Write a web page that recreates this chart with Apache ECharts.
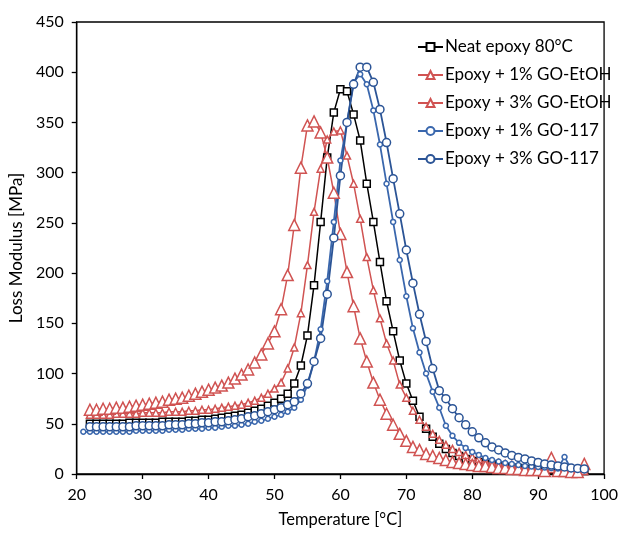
<!DOCTYPE html>
<html>
<head>
<meta charset="utf-8">
<script src="https://cdn.jsdelivr.net/npm/echarts@6/dist/echarts.min.js"></script>
<style>
html,body{margin:0;padding:0;background:#fff;}
#chart{width:621px;height:533px;}
</style>
</head>
<body>
<div id="chart"></div>
<script>
// Temperatures (°C)
const temps = [22,23,24,25,26,27,28,29,30,31,32,33,34,35,36,37,38,39,40,41,42,43,44,45,46,47,48,49,50,51,52,53,54,55,56,57,58,59,60,61,62,63,64,65,66,67,68,69,70,71,72,73,74,75,76,77,78,79,80,81,82,83,84,85,86,87,88,89,90,91,92,93,94,95,96,97];
const tempsGO117_1 = [21,22,23,24,25,26,27,28,29,30,31,32,33,34,35,36,37,38,39,40,41,42,43,44,45,46,47,48,49,50,51,52,53,54,55,56,57,58,59,60,61,62,63,64,65,66,67,68,69,70,71,72,73,74,75,76,77,78,79,80,81,82,83,84,85,86,87,88,89,90,91,92,93,94,95,96,97];

// Loss modulus (MPa)
const neatEpoxy = [50,50,50,50,50,50,51,51,51,51, 51,52,52,52,52,53,53,54,54,55, 56,57,58,59,61,63,65,68,71,75, 80,90,108,138,188,251,315,360,383,381, 358,332,289,251,211,172,142,113,90,73, 57,45,37,30,25,21,18,15,13,12, 10,9,8,7,6,6,5,5,4,4, 4,3,3,3,3,3];
const etoh1 = [59,59,59,59,60,60,60,60,61,61, 61,61,62,62,62,63,63,64,64,65, 66,67,68,69,71,73,76,80,85,91, 105,126,160,208,261,304,333,341,342,317, 289,254,216,183,155,130,113,89,76,63, 54,47,40,34,29,25,22,19,17,15, 13,12,11,10,9,8,7,7,6,6, 5,5,4,4,4,3];
const etoh3 = [64,64,65,65,66,66,67,68,69,70, 71,72,74,75,76,78,80,82,84,86, 88,91,95,99,104,111,119,130,142,164, 198,248,305,347,351,340,315,280,239,201, 167,135,112,91,74,60,49,40,33,27, 24,20,18,16,14,12,11,10,9,8, 8,7,6,6,5,5,4,4,4,3, 16,3,3,2,2,10];
const go117_1 = [42, 42,42,42,42,42,42,42,43,43,43, 43,43,44,44,44,45,45,45,46,46, 47,48,48,49,50,52,53,55,57,59, 62,66,74,88,112,144,192,251,312,350, 390,398,388,362,328,289,251,213,177,145, 121,100,82,66,48,38,31,26,22,19, 16,14,12.5,11,10,9,8,7.5,7,6.5, 6,5.5,17,5,4.5,4];
const go117_3 = [47,47,47,47,47,47,47,48,48,48, 48,48,49,49,49,50,50,51,51,52, 52,53,54,55,57,58,60,62,64,66, 69,72,80,90,112,135,179,235,297,350, 388,405,405,390,363,330,294,259,223,190, 159,132,105,83,75,65,56,49,42,36, 31,27,24,21,18.5,16.5,15,13,11.5,10, 9,8,7,6,5.5,5];

const seriesNames = ['Neat epoxy 80°C','Epoxy + 1% GO-EtOH','Epoxy + 3% GO-EtOH','Epoxy + 1% GO-117','Epoxy + 3% GO-117'];
const xTicks = [20,30,40,50,60,70,80,90,100];
const yTicks = [0,50,100,150,200,250,300,350,400,450];

const pair = (t, v) => t.map((x, i) => [x, v[i]]);
const FONT = 'Lato, "Open Sans", sans-serif';
const RED = '#d05352';
const BLUE1 = '#3a67ad';
const BLUE3 = '#2b5496';

function mk(name, data, color, symbol, size, lw) {
  return {
    name, type: 'line', data, symbol, symbolSize: size,
    showSymbol: true,
    lineStyle: { color, width: lw },
    itemStyle: { color: '#fff', borderColor: color, borderWidth: 1.5 },
    emphasis: { disabled: true },
    animation: false
  };
}

const chart = echarts.init(document.getElementById('chart'), null, { renderer: 'canvas' });
chart.setOption({
  backgroundColor: '#fff',
  animation: false,
  grid: { left: 74, right: 15, top: 22, bottom: 56, show: true, borderColor: '#000', borderWidth: 1.3, backgroundColor: 'transparent' },
  legend: {
    orient: 'vertical', left: 412, top: 32,
    itemWidth: 25, itemHeight: 10, itemGap: 8,
    textStyle: { fontFamily: FONT, fontSize: 17, color: '#000', lineHeight: 20, padding: [0,0,0,-3] },
    data: seriesNames
  },
  xAxis: {
    type: 'value', min: xTicks[0], max: xTicks[xTicks.length-1], interval: 10,
    name: 'Temperature [°C]', nameLocation: 'middle', nameGap: 37,
    nameTextStyle: { fontFamily: FONT, fontSize: 16.5, color: '#000' },
    axisLine: { show: true, lineStyle: { color: '#000', width: 1.3 } },
    axisTick: { show: true, inside: false, length: 5, lineStyle: { color: '#000', width: 1.3 } },
    axisLabel: { fontFamily: FONT, fontSize: 16, color: '#000', margin: 13 },
    splitLine: { show: false }
  },
  yAxis: {
    type: 'value', min: yTicks[0], max: yTicks[yTicks.length-1], interval: 50,
    name: 'Loss Modulus [MPa]', nameLocation: 'middle', nameGap: 42,
    nameTextStyle: { fontFamily: FONT, fontSize: 17, color: '#000' },
    axisLine: { show: true, lineStyle: { color: '#000', width: 1.3 } },
    axisTick: { show: true, inside: false, length: 5, lineStyle: { color: '#000', width: 1.3 } },
    axisLabel: { fontFamily: FONT, fontSize: 16, color: '#000', margin: 13 },
    splitLine: { show: false }
  },
  series: [
    mk(seriesNames[0], pair(temps, neatEpoxy), '#000', 'rect', 7, 1.5),
    mk(seriesNames[1], pair(temps, etoh1), RED, 'triangle', 7, 1.5),
    mk(seriesNames[2], pair(temps, etoh3), RED, 'triangle', 11, 1.5),
    mk(seriesNames[3], pair(tempsGO117_1, go117_1), BLUE1, 'circle', 5, 1.8),
    mk(seriesNames[4], pair(temps, go117_3), BLUE3, 'circle', 8, 1.8)
  ]
});
</script>
</body>
</html>
